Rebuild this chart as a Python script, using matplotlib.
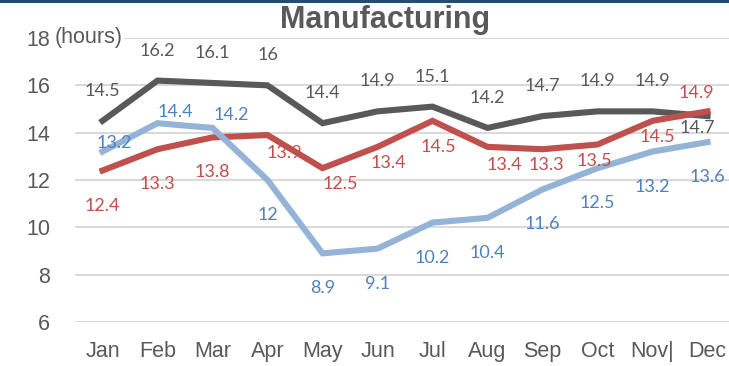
import matplotlib
matplotlib.use("Agg")
import matplotlib.pyplot as plt
from matplotlib.patches import Rectangle

months = ["Jan", "Feb", "Mar", "Apr", "May", "Jun", "Jul", "Aug", "Sep", "Oct", "Nov|", "Dec"]
grey_hours = [14.5, 16.2, 16.1, 16, 14.4, 14.9, 15.1, 14.2, 14.7, 14.9, 14.9, 14.7]
red_hours = [12.4, 13.3, 13.8, 13.9, 12.5, 13.4, 14.5, 13.4, 13.3, 13.5, 14.5, 14.9]
blue_hours = [13.2, 14.4, 14.2, 12, 8.9, 9.1, 10.2, 10.4, 11.6, 12.5, 13.2, 13.6]
yticks = [6, 8, 10, 12, 14, 16, 18]

# label offsets in pixels (dx, dy), hand placed so they don't collide
grey_off = [(0, 30)] * 11 + [(-10, -12)]
red_off = [(0, -35), (0, -35), (0, -35), (17, -18), (18, -16), (11, -16),
           (6, -26), (17, -18), (4, -16), (-3, -16), (5, -16), (-11, 18)]
blue_off = [(12, 9), (18, 11), (19, 13)] + [(0, -35)] * 9

GREY = "#595959"
RED = "#C0504D"
BLUE_LINE = "#95B3D7"
BLUE_TXT = "#4F81BD"

plt.rcParams["font.family"] = ["Liberation Sans", "DejaVu Sans"]

fig = plt.figure(figsize=(7.29, 3.66), dpi=100)
ax = fig.add_axes([75 / 729, 1 - 322 / 366, 660 / 729, 284 / 366])

x = list(range(len(months)))
series = [(grey_hours, GREY, GREY, grey_off),
          (red_hours, RED, RED, red_off),
          (blue_hours, BLUE_LINE, BLUE_TXT, blue_off)]
for vals, lc, tc, offs in series:
    ax.plot(x, vals, color=lc, lw=4.4, solid_joinstyle="miter", zorder=3)
for vals, lc, tc, offs in series:
    for i, v in enumerate(vals):
        ax.annotate(f"{v:g}", (i, v), xytext=offs[i], textcoords="offset pixels",
                    ha="center", va="center", fontsize=13, color=tc,
                    family=["Lato", "DejaVu Sans"], zorder=4)

ax.set_xlim(-0.5, 11.5)
ax.set_ylim(6, 18)
ax.set_yticks(yticks)
ax.set_xticks(x)
ax.set_xticklabels(months)
ax.grid(axis="y", color="#D9D9D9", lw=1.5)
ax.set_axisbelow(True)
for s in ax.spines.values():
    s.set_visible(False)
ax.tick_params(length=0, labelsize=15.5, colors=GREY)
ax.tick_params(axis="y", pad=18)
ax.tick_params(axis="x", pad=14)

fig.text(55 / 729, 1 - 38 / 366, "(hours)", ha="left", va="center", fontsize=15.5,
         color=GREY, bbox=dict(facecolor="white", edgecolor="none", pad=1))
fig.text(385 / 729, 1 - 20 / 366, "Manufacturing", ha="center", va="center",
         fontsize=22, fontweight="bold", color=GREY)

fig.add_artist(Rectangle((0, 1 - 3 / 366), 1, 3 / 366, transform=fig.transFigure,
                         facecolor="#1F4E79", edgecolor="none"))

fig.savefig("out.png", dpi=100)
